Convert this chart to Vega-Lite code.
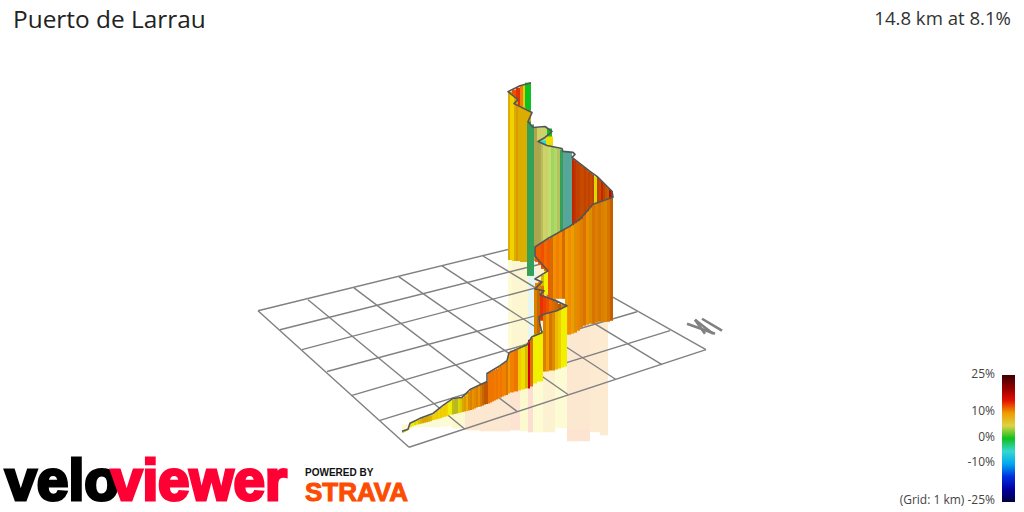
{
  "$schema": "https://vega.github.io/schema/vega-lite/v6.json",
  "description": "VeloViewer style 3D gradient profile of Puerto de Larrau, projected route curtain over a 1 km grid",
  "width": 1024,
  "height": 512,
  "autosize": {"type": "fit", "contains": "padding"},
  "padding": 0,
  "background": "white",
  "datasets": {
    "grid": [
      {"x": 258, "y": 312, "x2": 522, "y2": 247},
      {"x": 280, "y": 331, "x2": 549, "y2": 263},
      {"x": 302, "y": 351, "x2": 577, "y2": 278},
      {"x": 327, "y": 373, "x2": 610, "y2": 297},
      {"x": 352, "y": 397, "x2": 637, "y2": 313},
      {"x": 380, "y": 422, "x2": 670, "y2": 332},
      {"x": 409, "y": 449, "x2": 706, "y2": 351},
      {"x": 258, "y": 312, "x2": 409, "y2": 449},
      {"x": 308, "y": 301, "x2": 465, "y2": 431},
      {"x": 354, "y": 289, "x2": 517, "y2": 413},
      {"x": 399, "y": 278, "x2": 568, "y2": 396},
      {"x": 442, "y": 267, "x2": 616, "y2": 381},
      {"x": 483, "y": 257, "x2": 662, "y2": 366},
      {"x": 522, "y": 247, "x2": 706, "y2": 351}
    ],
    "north": [
      {"x": 687, "y": 325, "x2": 715, "y2": 335},
      {"x": 695, "y": 321, "x2": 705, "y2": 335},
      {"x": 695, "y": 321, "x2": 713, "y2": 335},
      {"x": 702, "y": 320, "x2": 722, "y2": 332}
    ],
    "reflection": [
      {"x": 508, "x2": 512, "y": 258, "y2": 350, "grade": 7},
      {"x": 512, "x2": 528, "y": 258, "y2": 350, "grade": 8.5},
      {"x": 528, "x2": 536, "y": 258, "y2": 340, "grade": -3},
      {"x": 536, "x2": 548, "y": 258, "y2": 330, "grade": 9},
      {"x": 402, "x2": 412, "y": 426, "y2": 431, "grade": 8},
      {"x": 412, "x2": 425, "y": 424, "y2": 429, "grade": 7},
      {"x": 425, "x2": 440, "y": 420, "y2": 429, "grade": 6},
      {"x": 440, "x2": 452, "y": 416, "y2": 428, "grade": 7},
      {"x": 452, "x2": 465, "y": 412, "y2": 430, "grade": 8},
      {"x": 465, "x2": 480, "y": 410, "y2": 432, "grade": 11},
      {"x": 480, "x2": 495, "y": 402, "y2": 433, "grade": 11},
      {"x": 495, "x2": 510, "y": 392, "y2": 433, "grade": 11},
      {"x": 510, "x2": 520, "y": 390, "y2": 432, "grade": 12},
      {"x": 520, "x2": 528, "y": 388, "y2": 433, "grade": 8},
      {"x": 528, "x2": 533, "y": 385, "y2": 434, "grade": 13},
      {"x": 533, "x2": 543, "y": 380, "y2": 434, "grade": 7},
      {"x": 543, "x2": 555, "y": 372, "y2": 434, "grade": 9},
      {"x": 555, "x2": 567, "y": 365, "y2": 430, "grade": 7},
      {"x": 567, "x2": 578, "y": 330, "y2": 430, "grade": 11},
      {"x": 578, "x2": 590, "y": 325, "y2": 430, "grade": 11},
      {"x": 590, "x2": 600, "y": 322, "y2": 434, "grade": 10.5},
      {"x": 600, "x2": 608, "y": 322, "y2": 437, "grade": 10.5},
      {"x": 567, "x2": 590, "y": 430, "y2": 443, "grade": 12}
    ],
    "panels": [
      {"x": 508, "x2": 512, "y": 92, "y2": 110, "grade": 11, "face": "mid"},
      {"x": 512, "x2": 516, "y": 90, "y2": 110, "grade": 13, "face": "lit"},
      {"x": 516, "x2": 520, "y": 88, "y2": 110, "grade": 14, "face": "lit"},
      {"x": 520, "x2": 523, "y": 86, "y2": 110, "grade": 11, "face": "lit"},
      {"x": 523, "x2": 525, "y": 85, "y2": 110, "grade": 7, "face": "mid"},
      {"x": 525, "x2": 531, "y": 83, "y2": 125, "grade": 0, "face": "lit"},

      {"x": 508, "x2": 510, "y": 92, "y2": 261, "grade": 8.8, "face": "mid"},
      {"x": 510, "x2": 512, "y": 93, "y2": 261, "grade": 8.3, "face": "lit"},
      {"x": 512, "x2": 514, "y": 95, "y2": 262, "grade": 8.3, "face": "lit"},
      {"x": 514, "x2": 516, "y": 97, "y2": 262, "grade": 8.8, "face": "mid"},
      {"x": 516, "x2": 518, "y": 99, "y2": 262, "grade": 9.5, "face": "mid"},
      {"x": 518, "x2": 520, "y": 106, "y2": 262, "grade": 8.8, "face": "mid"},
      {"x": 520, "x2": 523, "y": 107, "y2": 263, "grade": 8.8, "face": "mid"},
      {"x": 523, "x2": 526, "y": 108, "y2": 263, "grade": 8.8, "face": "mid"},
      {"x": 526, "x2": 528, "y": 110, "y2": 263, "grade": 8.8, "face": "mid"},
      {"x": 528, "x2": 531, "y": 111, "y2": 263, "grade": 8.8, "face": "mid"},

      {"x": 527, "x2": 531, "y": 122, "y2": 277, "grade": -1.5, "face": "shaded"},
      {"x": 531, "x2": 534, "y": 125, "y2": 277, "grade": -1.5, "face": "shaded"},
      {"x": 534, "x2": 537, "y": 128, "y2": 262, "grade": 4, "face": "shaded"},
      {"x": 537, "x2": 541, "y": 128, "y2": 146, "grade": 3.5, "face": "lit"},
      {"x": 541, "x2": 547, "y": 127, "y2": 146, "grade": 3, "face": "lit"},
      {"x": 547, "x2": 552, "y": 129, "y2": 150, "grade": 0, "face": "lit"},
      {"x": 546, "x2": 553, "y": 137, "y2": 152, "grade": 8, "face": "lit"},
      {"x": 538, "x2": 546, "y": 141, "y2": 147, "grade": -6, "face": "lit"},

      {"x": 537, "x2": 539, "y": 142, "y2": 262, "grade": 4, "face": "shaded"},
      {"x": 539, "x2": 541, "y": 143, "y2": 262, "grade": 3.5, "face": "shaded"},
      {"x": 541, "x2": 543, "y": 144, "y2": 262, "grade": 3.5, "face": "mid"},
      {"x": 543, "x2": 546, "y": 145, "y2": 262, "grade": 3, "face": "lit"},
      {"x": 546, "x2": 548, "y": 146, "y2": 262, "grade": 3.5, "face": "lit"},
      {"x": 548, "x2": 551, "y": 147, "y2": 262, "grade": 2.5, "face": "lit"},
      {"x": 551, "x2": 554, "y": 147, "y2": 262, "grade": 2, "face": "lit"},
      {"x": 554, "x2": 557, "y": 148, "y2": 262, "grade": 2.2, "face": "lit"},
      {"x": 557, "x2": 560, "y": 149, "y2": 262, "grade": 3, "face": "mid"},
      {"x": 560, "x2": 563, "y": 150, "y2": 262, "grade": -1.5, "face": "shaded"},
      {"x": 563, "x2": 566, "y": 152, "y2": 262, "grade": -3, "face": "shaded"},
      {"x": 566, "x2": 569, "y": 152, "y2": 262, "grade": -3.5, "face": "shaded"},
      {"x": 569, "x2": 572, "y": 153, "y2": 262, "grade": -3, "face": "shaded"},

      {"x": 572, "x2": 574, "y": 159, "y2": 250, "grade": 14, "face": "shaded"},
      {"x": 574, "x2": 576, "y": 161, "y2": 250, "grade": 13.5, "face": "shaded"},
      {"x": 576, "x2": 578, "y": 162, "y2": 250, "grade": 13, "face": "shaded"},
      {"x": 578, "x2": 580, "y": 164, "y2": 250, "grade": 13, "face": "shaded"},
      {"x": 580, "x2": 582, "y": 165, "y2": 250, "grade": 12.5, "face": "shaded"},
      {"x": 582, "x2": 584, "y": 167, "y2": 250, "grade": 12.5, "face": "shaded"},
      {"x": 584, "x2": 586, "y": 168, "y2": 250, "grade": 13, "face": "shaded"},
      {"x": 586, "x2": 588, "y": 170, "y2": 250, "grade": 12.5, "face": "shaded"},
      {"x": 588, "x2": 590, "y": 172, "y2": 250, "grade": 13, "face": "shaded"},
      {"x": 590, "x2": 592, "y": 173, "y2": 250, "grade": 12.5, "face": "shaded"},
      {"x": 592, "x2": 594, "y": 175, "y2": 250, "grade": 13, "face": "shaded"},
      {"x": 594, "x2": 597, "y": 177, "y2": 250, "grade": 7.5, "face": "mid"},
      {"x": 597, "x2": 599, "y": 178, "y2": 250, "grade": 13, "face": "shaded"},
      {"x": 599, "x2": 601, "y": 180, "y2": 250, "grade": 12.5, "face": "shaded"},
      {"x": 601, "x2": 603, "y": 182, "y2": 250, "grade": 14, "face": "shaded"},
      {"x": 603, "x2": 605, "y": 184, "y2": 250, "grade": 13, "face": "shaded"},
      {"x": 605, "x2": 607, "y": 186, "y2": 250, "grade": 12, "face": "shaded"},
      {"x": 607, "x2": 609, "y": 188, "y2": 250, "grade": 11.5, "face": "shaded"},
      {"x": 609, "x2": 611, "y": 190, "y2": 250, "grade": 15, "face": "shaded"},
      {"x": 611, "x2": 613, "y": 192, "y2": 250, "grade": 14, "face": "shaded"},

      {"x": 535, "x2": 538, "y": 247, "y2": 263, "grade": 12.5, "face": "lit"},
      {"x": 538, "x2": 541, "y": 245, "y2": 266, "grade": 12.5, "face": "lit"},
      {"x": 541, "x2": 544, "y": 243, "y2": 270, "grade": 13, "face": "lit"},
      {"x": 544, "x2": 547, "y": 241, "y2": 275, "grade": 12, "face": "lit"},
      {"x": 547, "x2": 550, "y": 240, "y2": 300, "grade": 12.5, "face": "lit"},
      {"x": 550, "x2": 553, "y": 238, "y2": 300, "grade": 11.5, "face": "mid"},
      {"x": 553, "x2": 556, "y": 236, "y2": 300, "grade": 10.5, "face": "lit"},
      {"x": 556, "x2": 559, "y": 234, "y2": 300, "grade": 11, "face": "lit"},
      {"x": 559, "x2": 562, "y": 232, "y2": 300, "grade": 10.5, "face": "lit"},
      {"x": 562, "x2": 565, "y": 231, "y2": 300, "grade": 11.5, "face": "mid"},
      {"x": 565, "x2": 568, "y": 229, "y2": 336, "grade": 10, "face": "lit"},
      {"x": 568, "x2": 571, "y": 228, "y2": 336, "grade": 10.5, "face": "lit"},
      {"x": 571, "x2": 574, "y": 226, "y2": 335, "grade": 10, "face": "lit"},
      {"x": 574, "x2": 577, "y": 224, "y2": 334, "grade": 9.8, "face": "mid"},
      {"x": 577, "x2": 580, "y": 222, "y2": 332, "grade": 11, "face": "lit"},
      {"x": 580, "x2": 583, "y": 220, "y2": 329, "grade": 10.5, "face": "mid"},
      {"x": 583, "x2": 586, "y": 216, "y2": 327, "grade": 11, "face": "mid"},
      {"x": 586, "x2": 589, "y": 212, "y2": 326, "grade": 10.5, "face": "lit"},
      {"x": 589, "x2": 592, "y": 208, "y2": 325, "grade": 10, "face": "mid"},
      {"x": 592, "x2": 595, "y": 205, "y2": 325, "grade": 11, "face": "mid"},
      {"x": 595, "x2": 598, "y": 204, "y2": 324, "grade": 10.5, "face": "mid"},
      {"x": 598, "x2": 601, "y": 203, "y2": 323, "grade": 11, "face": "mid"},
      {"x": 601, "x2": 604, "y": 202, "y2": 323, "grade": 10.5, "face": "mid"},
      {"x": 604, "x2": 607, "y": 200, "y2": 323, "grade": 10.2, "face": "mid"},
      {"x": 607, "x2": 610, "y": 199, "y2": 323, "grade": 11, "face": "mid"},
      {"x": 610, "x2": 613, "y": 198, "y2": 322, "grade": 11.5, "face": "shaded"},

      {"x": 541, "x2": 544, "y": 276, "y2": 296, "grade": 8.5, "face": "mid"},
      {"x": 544, "x2": 548, "y": 272, "y2": 296, "grade": 7.5, "face": "lit"},
      {"x": 535, "x2": 538, "y": 284, "y2": 300, "grade": 11, "face": "lit"},
      {"x": 538, "x2": 541, "y": 283, "y2": 300, "grade": 11, "face": "lit"},
      {"x": 541, "x2": 544, "y": 287, "y2": 300, "grade": 11, "face": "mid"},
      {"x": 534, "x2": 537, "y": 290, "y2": 340, "grade": 10.5, "face": "mid"},
      {"x": 537, "x2": 540, "y": 292, "y2": 340, "grade": 11, "face": "shaded"},

      {"x": 540, "x2": 543, "y": 296, "y2": 322, "grade": 14, "face": "lit"},
      {"x": 543, "x2": 546, "y": 297, "y2": 322, "grade": 13.5, "face": "lit"},
      {"x": 546, "x2": 549, "y": 298, "y2": 322, "grade": 13, "face": "lit"},
      {"x": 549, "x2": 552, "y": 299, "y2": 322, "grade": 12, "face": "lit"},
      {"x": 552, "x2": 555, "y": 301, "y2": 322, "grade": 11.5, "face": "mid"},
      {"x": 555, "x2": 558, "y": 303, "y2": 322, "grade": 11, "face": "shaded"},
      {"x": 558, "x2": 561, "y": 305, "y2": 322, "grade": 12, "face": "shaded"},
      {"x": 561, "x2": 567, "y": 306, "y2": 322, "grade": 11, "face": "mid"},

      {"x": 543, "x2": 546, "y": 315, "y2": 373, "grade": 10.5, "face": "mid"},
      {"x": 546, "x2": 549, "y": 314, "y2": 373, "grade": 10, "face": "lit"},
      {"x": 549, "x2": 552, "y": 313, "y2": 372, "grade": 11, "face": "mid"},
      {"x": 552, "x2": 555, "y": 313, "y2": 372, "grade": 10, "face": "mid"},
      {"x": 555, "x2": 558, "y": 312, "y2": 371, "grade": 9, "face": "lit"},
      {"x": 558, "x2": 561, "y": 311, "y2": 370, "grade": 8.5, "face": "lit"},
      {"x": 561, "x2": 564, "y": 309, "y2": 369, "grade": 7.5, "face": "lit"},
      {"x": 564, "x2": 567, "y": 308, "y2": 368, "grade": 7.5, "face": "lit"},

      {"x": 402, "x2": 404, "y": 433, "y2": 434.5, "grade": 7, "face": "shaded"},
      {"x": 404, "x2": 406, "y": 432, "y2": 433.5, "grade": 7, "face": "shaded"},
      {"x": 406, "x2": 408, "y": 431.5, "y2": 432.5, "grade": 7.5, "face": "mid"},
      {"x": 408, "x2": 410, "y": 431, "y2": 431.5, "grade": 7.5, "face": "mid"},
      {"x": 410, "x2": 412, "y": 425, "y2": 429, "grade": 7, "face": "lit"},
      {"x": 412, "x2": 414, "y": 424, "y2": 428, "grade": 7.5, "face": "lit"},
      {"x": 414, "x2": 416, "y": 423, "y2": 427, "grade": 7.5, "face": "mid"},
      {"x": 416, "x2": 418, "y": 422, "y2": 426.5, "grade": 8, "face": "lit"},
      {"x": 418, "x2": 420, "y": 421, "y2": 426, "grade": 8, "face": "mid"},
      {"x": 420, "x2": 422, "y": 420, "y2": 425.5, "grade": 8.5, "face": "mid"},
      {"x": 422, "x2": 424, "y": 419.5, "y2": 425, "grade": 9, "face": "mid"},
      {"x": 424, "x2": 426, "y": 419, "y2": 424.5, "grade": 9, "face": "mid"},
      {"x": 426, "x2": 428, "y": 418, "y2": 424, "grade": 9, "face": "mid"},
      {"x": 428, "x2": 430, "y": 417.5, "y2": 423.5, "grade": 8.8, "face": "mid"},
      {"x": 430, "x2": 432, "y": 417, "y2": 423, "grade": 8.5, "face": "mid"},
      {"x": 432, "x2": 434, "y": 416, "y2": 422, "grade": 8.5, "face": "lit"},
      {"x": 434, "x2": 436, "y": 414, "y2": 421.5, "grade": 8.3, "face": "lit"},
      {"x": 436, "x2": 438, "y": 412.5, "y2": 421, "grade": 8.5, "face": "lit"},
      {"x": 438, "x2": 440, "y": 411, "y2": 420.5, "grade": 8.2, "face": "lit"},
      {"x": 440, "x2": 442, "y": 409.5, "y2": 420, "grade": 8.5, "face": "lit"},
      {"x": 442, "x2": 444, "y": 408, "y2": 419, "grade": 8.3, "face": "lit"},
      {"x": 444, "x2": 446, "y": 406, "y2": 418.5, "grade": 8.5, "face": "lit"},
      {"x": 446, "x2": 448, "y": 405, "y2": 418, "grade": 8.2, "face": "lit"},
      {"x": 448, "x2": 450, "y": 403.5, "y2": 417, "grade": 7.5, "face": "lit"},
      {"x": 450, "x2": 452, "y": 402, "y2": 416.5, "grade": 7, "face": "lit"},
      {"x": 452, "x2": 454, "y": 401, "y2": 416, "grade": 7, "face": "shaded"},
      {"x": 454, "x2": 456, "y": 400, "y2": 415.5, "grade": 6, "face": "shaded"},
      {"x": 456, "x2": 458, "y": 400, "y2": 415, "grade": 6, "face": "shaded"},
      {"x": 458, "x2": 460, "y": 400, "y2": 414.5, "grade": 7.5, "face": "mid"},
      {"x": 460, "x2": 462, "y": 399.5, "y2": 414, "grade": 8, "face": "mid"},
      {"x": 462, "x2": 464, "y": 399, "y2": 413.5, "grade": 9, "face": "mid"},
      {"x": 464, "x2": 466, "y": 397, "y2": 413, "grade": 9.5, "face": "mid"},
      {"x": 466, "x2": 468, "y": 395, "y2": 412.5, "grade": 9.5, "face": "lit"},
      {"x": 468, "x2": 470, "y": 393, "y2": 412, "grade": 10, "face": "mid"},
      {"x": 470, "x2": 472, "y": 391, "y2": 411.5, "grade": 10.5, "face": "mid"},
      {"x": 472, "x2": 474, "y": 390.5, "y2": 411, "grade": 10.5, "face": "lit"},
      {"x": 474, "x2": 476, "y": 389.5, "y2": 410, "grade": 10, "face": "mid"},
      {"x": 476, "x2": 478, "y": 388.5, "y2": 409, "grade": 10.5, "face": "mid"},
      {"x": 478, "x2": 480, "y": 387.5, "y2": 408.5, "grade": 10.5, "face": "lit"},
      {"x": 480, "x2": 482, "y": 386.5, "y2": 408, "grade": 10.8, "face": "mid"},
      {"x": 482, "x2": 484, "y": 385.5, "y2": 407, "grade": 11, "face": "shaded"},
      {"x": 484, "x2": 486, "y": 384.5, "y2": 406, "grade": 12, "face": "shaded"},
      {"x": 486, "x2": 488, "y": 383.5, "y2": 405.5, "grade": 12, "face": "shaded"},
      {"x": 488, "x2": 490, "y": 374.5, "y2": 405, "grade": 11.5, "face": "lit"},
      {"x": 490, "x2": 492, "y": 373.5, "y2": 404, "grade": 11.5, "face": "lit"},
      {"x": 492, "x2": 494, "y": 372, "y2": 403, "grade": 11.5, "face": "lit"},
      {"x": 494, "x2": 496, "y": 371, "y2": 402, "grade": 11.2, "face": "lit"},
      {"x": 496, "x2": 498, "y": 370, "y2": 401, "grade": 11.5, "face": "lit"},
      {"x": 498, "x2": 500, "y": 368.5, "y2": 400, "grade": 11, "face": "lit"},
      {"x": 500, "x2": 502, "y": 367, "y2": 399, "grade": 11.5, "face": "lit"},
      {"x": 502, "x2": 504, "y": 365.5, "y2": 398, "grade": 11, "face": "lit"},
      {"x": 504, "x2": 506, "y": 364, "y2": 397, "grade": 11, "face": "lit"},
      {"x": 506, "x2": 508, "y": 362.5, "y2": 396.5, "grade": 11, "face": "mid"},
      {"x": 508, "x2": 510, "y": 354.5, "y2": 395, "grade": 10, "face": "lit"},
      {"x": 510, "x2": 514, "y": 352, "y2": 394, "grade": 11, "face": "lit"},
      {"x": 514, "x2": 518, "y": 351, "y2": 393, "grade": 11.5, "face": "lit"},
      {"x": 518, "x2": 521, "y": 349, "y2": 392, "grade": 8.5, "face": "lit"},
      {"x": 521, "x2": 525, "y": 347, "y2": 391, "grade": 8, "face": "lit"},
      {"x": 525, "x2": 528, "y": 345, "y2": 390, "grade": 8.5, "face": "mid"},
      {"x": 528, "x2": 530, "y": 341, "y2": 390, "grade": 16, "face": "lit"},
      {"x": 530, "x2": 533, "y": 339, "y2": 388, "grade": 11, "face": "mid"},
      {"x": 533, "x2": 537, "y": 336, "y2": 385, "grade": 7.5, "face": "lit"},
      {"x": 537, "x2": 540, "y": 335, "y2": 383, "grade": 7.5, "face": "lit"},
      {"x": 540, "x2": 543, "y": 333, "y2": 383, "grade": 7.5, "face": "lit"}
    ],
    "route": [
      {"i": 1, "x": 402, "y": 433}, {"i": 2, "x": 408, "y": 431}, {"i": 3, "x": 410, "y": 425},
      {"i": 4, "x": 420, "y": 420}, {"i": 5, "x": 433, "y": 415}, {"i": 6, "x": 443, "y": 407},
      {"i": 7, "x": 453, "y": 400}, {"i": 8, "x": 462, "y": 399}, {"i": 9, "x": 470, "y": 391},
      {"i": 10, "x": 487, "y": 383}, {"i": 11, "x": 487, "y": 375}, {"i": 12, "x": 500, "y": 367},
      {"i": 13, "x": 507, "y": 362}, {"i": 14, "x": 509, "y": 354}, {"i": 15, "x": 527, "y": 346},
      {"i": 16, "x": 532, "y": 338}, {"i": 17, "x": 542, "y": 334}, {"i": 18, "x": 540, "y": 326},
      {"i": 19, "x": 539, "y": 318}, {"i": 20, "x": 545, "y": 315}, {"i": 21, "x": 557, "y": 312},
      {"i": 22, "x": 567, "y": 307}, {"i": 23, "x": 553, "y": 301}, {"i": 24, "x": 540, "y": 296},
      {"i": 25, "x": 544, "y": 292}, {"i": 26, "x": 535, "y": 290}, {"i": 27, "x": 542, "y": 283},
      {"i": 28, "x": 535, "y": 280}, {"i": 29, "x": 548, "y": 272}, {"i": 30, "x": 540, "y": 263},
      {"i": 31, "x": 535, "y": 257}, {"i": 32, "x": 535, "y": 248}, {"i": 33, "x": 547, "y": 240},
      {"i": 34, "x": 570, "y": 227}, {"i": 35, "x": 580, "y": 220}, {"i": 36, "x": 593, "y": 205},
      {"i": 37, "x": 613, "y": 198}, {"i": 38, "x": 612, "y": 192}, {"i": 39, "x": 605, "y": 185},
      {"i": 40, "x": 597, "y": 177}, {"i": 41, "x": 590, "y": 172}, {"i": 42, "x": 572, "y": 158},
      {"i": 43, "x": 575, "y": 155}, {"i": 44, "x": 573, "y": 153}, {"i": 45, "x": 563, "y": 152},
      {"i": 46, "x": 562, "y": 149}, {"i": 47, "x": 547, "y": 146}, {"i": 48, "x": 538, "y": 142},
      {"i": 49, "x": 545, "y": 138}, {"i": 50, "x": 552, "y": 132}, {"i": 51, "x": 545, "y": 127},
      {"i": 52, "x": 533, "y": 128}, {"i": 53, "x": 528, "y": 122}, {"i": 54, "x": 532, "y": 113},
      {"i": 55, "x": 514, "y": 104}, {"i": 56, "x": 518, "y": 100}, {"i": 57, "x": 508, "y": 92},
      {"i": 58, "x": 520, "y": 86}, {"i": 59, "x": 531, "y": 83}
    ]
  },
  "encoding": {
    "x": {"field": "x", "type": "quantitative", "scale": {"domain": [0, 1024]}, "axis": null},
    "y": {"field": "y", "type": "quantitative", "scale": {"domain": [512, 0]}, "axis": null}
  },
  "layer": [
    {
      "data": {"name": "reflection"},
      "mark": {"type": "rect", "opacity": 0.18},
      "encoding": {
        "x2": {"field": "x2"},
        "y2": {"field": "y2"},
        "color": {
          "field": "grade",
          "type": "quantitative",
          "legend": {
            "orient": "none",
            "legendX": 1002,
            "legendY": 375,
            "direction": "vertical",
            "gradientLength": 127,
            "gradientThickness": 13,
            "gradientStrokeWidth": 0,
            "gradientOpacity": 1,
            "title": null,
            "labelExpr": "''"
          }
        }
      }
    },
    {
      "data": {"name": "grid"},
      "mark": {"type": "rule", "color": "#808080", "strokeWidth": 1.4},
      "encoding": {"x2": {"field": "x2"}, "y2": {"field": "y2"}}
    },
    {
      "data": {"name": "north"},
      "mark": {"type": "rule", "color": "#808080", "strokeWidth": 2.6},
      "encoding": {"x2": {"field": "x2"}, "y2": {"field": "y2"}}
    },
    {
      "data": {"name": "panels"},
      "transform": [{"fold": ["x", "x2"], "as": ["pass", "edge"]}],
      "mark": {"type": "rect"},
      "encoding": {
        "x2": {"field": "x2"},
        "y2": {"field": "y2"},
        "opacity": {
          "condition": {"test": "datum.pass == 'x'", "value": 1},
          "field": "face",
          "type": "nominal",
          "scale": {"domain": ["lit", "mid", "shaded"], "range": [0, 0.18, 0.38]},
          "legend": null
        },
        "color": {
          "condition": {"test": "datum.pass == 'x2'", "value": "black"},
          "field": "grade",
          "type": "quantitative",
          "scale": {
            "interpolate": "rgb",
            "domain": [-25, -18, -13, -10, -7, -3, 0, 2.5, 4, 7.5, 9, 11, 13, 15.5, 20, 25],
            "range": ["#000040", "#0000c8", "#0050f0", "#00a8f0", "#00e8e8", "#70c8b8", "#10c020", "#c4dc70", "#d4c860", "#f0f000", "#f0b800", "#f08000", "#ee5000", "#e00000", "#900000", "#3c0000"]
          },
          "legend": {
            "orient": "none",
            "legendX": 1002,
            "legendY": 375,
            "direction": "vertical",
            "gradientLength": 127,
            "gradientThickness": 13,
            "gradientStrokeWidth": 0,
            "gradientOpacity": 1,
            "title": null,
            "labelExpr": "''"
          }
        }
      }
    },
    {
      "data": {"name": "route"},
      "mark": {"type": "line", "color": "#555555", "strokeWidth": 1.6, "strokeJoin": "round"},
      "encoding": {"order": {"field": "i", "type": "quantitative"}}
    },
    {
      "data": {"values": [{"x": 13, "y": 28, "label": "Puerto de Larrau"}]},
      "mark": {"type": "text", "align": "left", "baseline": "alphabetic", "font": "Open Sans", "fontSize": 24.4, "color": "#222222"},
      "encoding": {"text": {"field": "label"}}
    },
    {
      "data": {"values": [{"x": 1011, "y": 25, "label": "14.8 km at 8.1%"}]},
      "mark": {"type": "text", "align": "right", "baseline": "alphabetic", "font": "Open Sans", "fontSize": 18.6, "color": "#333333"},
      "encoding": {"text": {"field": "label"}}
    },
    {
      "data": {"values": [
        {"x": 995, "y": 379, "label": "25%"},
        {"x": 995, "y": 417, "label": "10%"},
        {"x": 995, "y": 443, "label": "0%"},
        {"x": 995, "y": 468, "label": "-10%"},
        {"x": 995, "y": 506, "label": "(Grid: 1 km) -25%"}
      ]},
      "mark": {"type": "text", "align": "right", "baseline": "alphabetic", "font": "Open Sans", "fontSize": 12, "color": "#444444"},
      "encoding": {"text": {"field": "label"}}
    },
    {
      "data": {"values": [{"x": 5, "y": 502, "label": "velo"}]},
      "mark": {"type": "text", "align": "left", "baseline": "alphabetic", "font": "Liberation Sans", "fontWeight": "bold", "fontSize": 57, "color": "#000000", "stroke": "#000000", "strokeWidth": 3},
      "encoding": {"text": {"field": "label"}}
    },
    {
      "data": {"values": [{"x": 111, "y": 502, "label": "viewer"}]},
      "mark": {"type": "text", "align": "left", "baseline": "alphabetic", "font": "Liberation Sans", "fontWeight": "bold", "fontSize": 56.5, "color": "#ff0035", "stroke": "#ff0035", "strokeWidth": 3},
      "encoding": {"text": {"field": "label"}}
    },
    {
      "data": {"values": [{"x": 305, "y": 478, "label": "POWERED BY"}]},
      "mark": {"type": "text", "align": "left", "baseline": "alphabetic", "font": "Liberation Sans", "fontWeight": "bold", "fontSize": 10, "color": "#111111"},
      "encoding": {"text": {"field": "label"}}
    },
    {
      "data": {"values": [{"x": 305, "y": 503, "label": "STRAVA"}]},
      "mark": {"type": "text", "align": "left", "baseline": "alphabetic", "font": "Liberation Sans", "fontWeight": "bold", "fontSize": 26, "color": "#fc4c02", "stroke": "#fc4c02", "strokeWidth": 1},
      "encoding": {"text": {"field": "label"}}
    }
  ],
  "config": {"view": {"stroke": null}}
}
